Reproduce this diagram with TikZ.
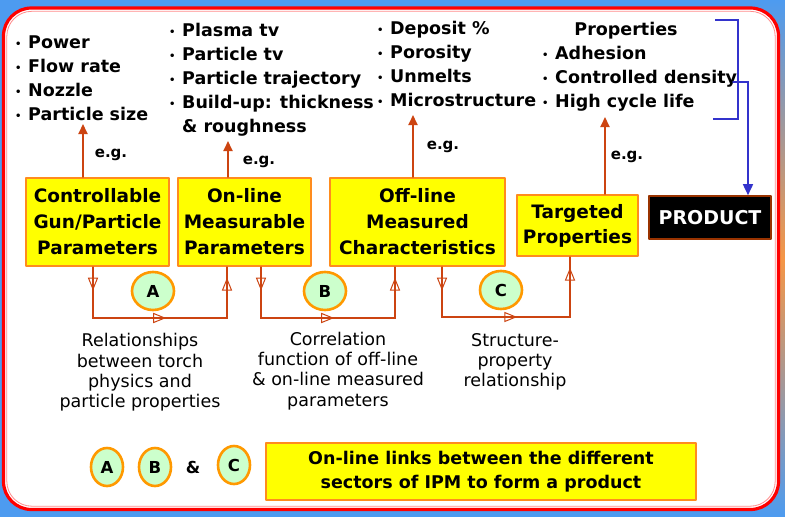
\documentclass[tikz,border=0pt]{standalone}
\usepackage{fontspec}
\setmainfont{DejaVu Sans}
\usetikzlibrary{arrows.meta,decorations.markings,shapes.geometric}

\definecolor{bgblue}{RGB}{77,155,240}
\definecolor{bgorange}{RGB}{245,150,70}
\definecolor{framered}{RGB}{255,0,0}
\definecolor{boxyellow}{RGB}{255,255,0}
\definecolor{boxorange}{RGB}{255,140,30}
\definecolor{linkred}{RGB}{204,68,17}
\definecolor{lettergreen}{RGB}{204,255,204}
\definecolor{letterorange}{RGB}{255,153,0}
\definecolor{brackblue}{RGB}{51,51,204}
\definecolor{prodborder}{RGB}{153,51,0}

\newcommand{\itm}{\makebox[13pt][l]{\raisebox{1pt}{\fontsize{10}{10}\selectfont •}}}
\newcommand{\opentip}{\draw[linkred, line width=1pt, line join=miter]
  (0pt,0pt) -- (-11pt,4.5pt) -- (-11pt,-4.5pt) -- cycle;}

\tikzset{
  sector/.style={draw=boxorange, fill=boxyellow, line width=2.2pt, align=center,
    inner sep=0pt, font=\fontsize{18.5}{26}\selectfont\bfseries},
  itemlist/.style={align=left, inner sep=0pt, anchor=west,
    font=\fontsize{17.5}{24}\selectfont\bfseries},
  relnote/.style={align=center, inner sep=0pt,
    font=\fontsize{17.5}{20.3}\selectfont},
  eg/.style={inner sep=0pt, font=\fontsize{15}{15}\selectfont\bfseries},
  egarrow/.style={draw=linkred, line width=2pt, -{Triangle[length=10pt,width=9pt]}},
  loopline/.style={draw=linkred, line width=1.6pt, line join=miter,
    decoration={markings,
      mark=at position 22pt with {\opentip},
      mark=at position 0.52 with {\opentip},
      mark=at position -12pt with {\opentip}},
    postaction={decorate}},
  letter/.style={ellipse, draw=letterorange, fill=lettergreen, line width=2.6pt,
    inner sep=0pt, font=\fontsize{16.5}{16}\selectfont\bfseries},
  brackline/.style={draw=brackblue, line width=1.6pt},
}

\begin{document}
\begin{tikzpicture}[x=1pt, y=-1pt, line cap=round, line join=round]
  \useasboundingbox (0,0) rectangle (785,517);

  % background and frame
  \fill[bgblue] (0,0) rectangle (785,517);
  \shade[top color=bgblue, bottom color=bgblue, middle color=bgorange] (760,0) rectangle (785,517);
  \draw[framered, line width=3.2pt, fill=white, rounded corners=28pt] (3.5,8) rectangle (778.5,509.5);
  \draw[framered!45, line width=0.8pt, rounded corners=25pt] (6.8,11.3) rectangle (775.2,506.2);

  % sectors
  \node[sector, minimum width=143pt, minimum height=88pt] (gun) at (97.5,222)
    {Controllable\\Gun/Particle\\Parameters};
  \node[sector, minimum width=133pt, minimum height=88pt] (onl) at (244.5,222)
    {On-line\\Measurable\\Parameters};
  \node[sector, minimum width=175pt, minimum height=88pt] (offl) at (417.5,222)
    {Off-line\\Measured\\Characteristics};
  \node[sector, minimum width=121pt, minimum height=61pt,
    font=\fontsize{18.5}{25}\selectfont\bfseries] (targ) at (577.5,225.5)
    {Targeted\\Properties};
  \node[draw=prodborder, fill=black, text=white, line width=1.6pt, inner sep=0pt,
    minimum width=122pt, minimum height=43pt,
    font=\fontsize{19}{20}\selectfont\bfseries] (prod) at (710,217.5) {PRODUCT};

  % examples
  \node[itemlist] (gunlist) at (15,78)
    {\itm Power\\\itm Flow rate\\\itm Nozzle\\\itm Particle size};
  \node[itemlist] (onllist) at (169,79.5)
    {\itm Plasma tv\\\itm Particle tv\\\itm Particle trajectory\\
     \itm Build-up: thickness\\\hphantom{\itm}\& roughness};
  \node[itemlist] (offllist) at (377,64)
    {\itm Deposit \%\\\itm Porosity\\\itm Unmelts\\\itm Microstructure};
  \node[itemlist] (targlist) at (542,79)
    {\itm Adhesion\\\itm Controlled density\\\itm High cycle life};
  \node[inner sep=0pt, font=\fontsize{17.5}{24}\selectfont\bfseries] (proptitle) at (626,31) {Properties};

  \coordinate (tipa) at (83,124);
  \coordinate (tipb) at (228,141);
  \coordinate (tipc) at (413,115);
  \coordinate (tipd) at (605,117);
  \draw[egarrow] (gun.north -| tipa) -- (tipa);
  \draw[egarrow] (onl.north -| tipb) -- (tipb);
  \draw[egarrow] (offl.north -| tipc) -- (tipc);
  \draw[egarrow] (targ.north -| tipd) -- (tipd);
  \node[eg] (ega) at (111,155) {e.g.};
  \node[eg] (egb) at (259,162) {e.g.};
  \node[eg] (egc) at (443,147) {e.g.};
  \node[eg] (egd) at (627,157) {e.g.};

  % product bracket
  \coordinate (bra) at (715,20);
  \coordinate (brb) at (738,20);
  \coordinate (brc) at (738,119);
  \coordinate (brd) at (713,119);
  \coordinate (brs) at (733,82);
  \coordinate (brt) at (748,82);
  \draw[brackline, line cap=butt, line join=miter] (bra) -- (brb) -- (brc) -- (brd);
  \draw[brackline, line join=miter, -{Triangle[length=11pt,width=10pt]}] (brs) -- (brt) -- (prod.north -| brt);

  % links between sectors
  \coordinate (la) at (93,318);
  \coordinate (lb) at (227,318);
  \coordinate (lc) at (261,318);
  \coordinate (ld) at (395,318);
  \coordinate (le) at (442,317);
  \coordinate (lf) at (570,317);
  \draw[loopline] (gun.south -| la) -- (la) -- (lb) -- (onl.south -| lb);
  \draw[loopline] (onl.south -| lc) -- (lc) -- (ld) -- (offl.south -| ld);
  \draw[loopline] (offl.south -| le) -- (le) -- (lf) -- (targ.south -| lf);

  \node[letter, minimum width=42pt, minimum height=38pt] (linka) at (153,291) {A};
  \node[letter, minimum width=42pt, minimum height=38pt] (linkb) at (325,291) {B};
  \node[letter, minimum width=42pt, minimum height=38pt] (linkc) at (501,290) {C};

  \node[relnote] (notea) at (140,372.5)
    {Relationships\\between torch\\physics and\\particle properties};
  \node[relnote] (noteb) at (338,371)
    {Correlation\\function of off-line\\\& on-line measured\\parameters};
  \node[relnote] (notec) at (515,362)
    {Structure-\\property\\relationship};

  % legend
  \node[letter, minimum width=32pt, minimum height=38pt] (keya) at (107,467) {A};
  \node[letter, minimum width=32pt, minimum height=38pt] (keyb) at (155,467) {B};
  \node[inner sep=0pt, font=\fontsize{16.5}{16}\selectfont\bfseries] (keyand) at (193,467) {\&};
  \node[letter, minimum width=32pt, minimum height=38pt] (keyc) at (234,465) {C};
  \node[sector, minimum width=430pt, minimum height=57pt,
    font=\fontsize{17.5}{24}\selectfont\bfseries] (linkbox) at (481,471.5)
    {On-line links between the different\\sectors of IPM to form a product};
\end{tikzpicture}
\end{document}
